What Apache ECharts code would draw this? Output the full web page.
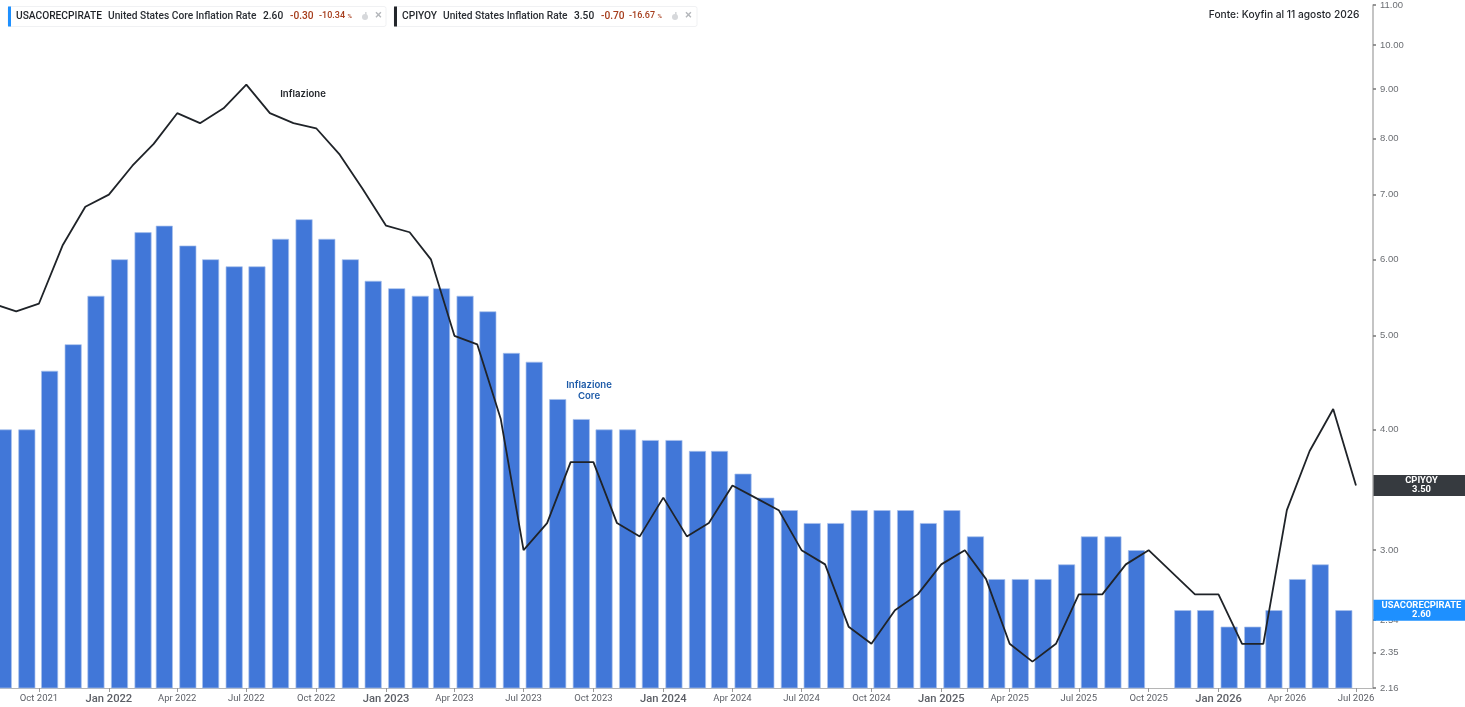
<!DOCTYPE html>
<html><head><meta charset="utf-8">
<style>html,body{margin:0;padding:0;background:#fff}#c{width:1465px;height:707px}</style>
<script src="https://cdn.jsdelivr.net/npm/echarts@6/dist/echarts.min.js"></script>
</head><body><div id="c"></div>
<script>
const coreStart = [2021, 8];
const coreValues = [4.0,4.0,4.6,4.9,5.5,6.0,6.4,6.5,6.2,6.0,5.9,5.9,6.3,6.6,6.3,6.0,5.7,5.6,5.5,5.6,5.5,5.3,4.8,4.7,4.3,4.1,4.0,4.0,3.9,3.9,3.8,3.8,3.6,3.4,3.3,3.2,3.2,3.3,3.3,3.3,3.2,3.3,3.1,2.8,2.8,2.8,2.9,3.1,3.1,3.0,null,2.6,2.6,2.5,2.5,2.6,2.8,2.9,2.6];
const cpiStart = [2021, 7];
const cpiValues = [5.4,5.3,5.4,6.2,6.8,7.0,7.5,7.9,8.5,8.3,8.6,9.1,8.5,8.3,8.2,7.7,7.1,6.5,6.4,6.0,5.0,4.9,4.1,3.0,3.2,3.7,3.7,3.2,3.1,3.4,3.1,3.2,3.5,3.4,3.3,3.0,2.9,2.5,2.4,2.6,2.7,2.9,3.0,2.8,2.4,2.3,2.4,2.7,2.7,2.9,3.0,null,2.7,2.7,2.4,2.4,3.3,3.8,4.2,3.5];
const yTicks = [2.16,2.35,2.54,3,4,5,6,7,8,9,10,11];
const xTickMonths = ['2021-10','2022-01','2022-04','2022-07','2022-10','2023-01','2023-04','2023-07','2023-10','2024-01','2024-04','2024-07','2024-10','2025-01','2025-04','2025-07','2025-10','2026-01','2026-04','2026-07'];
const monthNames = ['Jan','Feb','Mar','Apr','May','Jun','Jul','Aug','Sep','Oct','Nov','Dec'];

const xTicks = xTickMonths.map(s => { const [y,m] = s.split('-').map(Number); return new Date(y,m-1,1).getTime(); });
const coreData = coreValues.map((v,i) => [new Date(coreStart[0], coreStart[1]-1+i, 15).getTime(), v]);
const cpiData = cpiValues.map((v,i) => [new Date(cpiStart[0], cpiStart[1]+i, 1).getTime(), v]);

const chart = echarts.init(document.getElementById('c'), null, {renderer:'canvas'});
const FONT = 'Roboto';
function legendEls(x, right, color, items, iconX, closeX){
  const mk = (left, text, fill, size) => ({type:'text', x:left, y:16, z:50, style:{text, fill, font:'500 '+(size||10.2)+'px '+FONT, verticalAlign:'middle'}});
  const els = [
    {type:'rect', z:49, shape:{x:x, y:6.5, width:right-x, height:20, r:2}, style:{fill:'#fff', stroke:'#f0f1f3', lineWidth:1}},
    {type:'rect', z:50, shape:{x:x, y:6.5, width:3, height:20}, style:{fill:color}}
  ];
  items.forEach(it => els.push(mk(it[0], it[1], it[2], it[3])));
  els.push({type:'circle', z:50, shape:{cx:iconX, cy:17, r:3}, style:{fill:'#d6d8db'}});
  els.push({type:'rect', z:50, shape:{x:iconX, y:12, width:1.6, height:4}, style:{fill:'#d6d8db'}});
  els.push(mk(closeX, '×', '#b4b7bb', 13));
  return els;
}
chart.setOption({
  animation:false,
  backgroundColor:'#fff',
  grid:{left:0, right:92, top:-4, height:692, containLabel:false},
  xAxis:{type:'value', scale:true, min:new Date(2021,7,10,16).getTime(), max:new Date(2026,6,23,10).getTime(),
    splitLine:{show:false},
    axisLine:{onZero:false, lineStyle:{color:'#b5b5b5', width:1.2}},
    axisTick:{show:true, length:4, customValues:xTicks, lineStyle:{color:'#9a9a9a'}},
    axisLabel:{customValues:xTicks, margin:6, hideOverlap:false, showMinLabel:true, showMaxLabel:true,
      formatter:v=>{const d=new Date(v);const s=monthNames[d.getMonth()]+' '+d.getFullYear();return d.getMonth()===0?'{b|'+s+'}':'{n|'+s+'}';},
      rich:{b:{fontFamily:FONT,fontSize:11.2,fontWeight:500,color:'#5c5f66'},n:{fontFamily:FONT,fontSize:9.5,color:'#5c5f66'}}}},
  yAxis:{type:'log', logBase:10, min:2.16, max:11, position:'right',
    splitLine:{show:false}, minorTick:{show:false}, minorSplitLine:{show:false},
    axisLine:{show:true, lineStyle:{color:'#b0b0b0', width:1.5}},
    axisTick:{show:true, length:3, customValues:yTicks, lineStyle:{color:'#777', width:1.5}},
    axisLabel:{customValues:yTicks, margin:7, fontFamily:'Liberation Sans', fontSize:9.5, color:'#6b6e73', hideOverlap:false,
      showMinLabel:true, showMaxLabel:true, formatter:v=>Number(v).toFixed(2)}},
  series:[
    {name:'USACORECPIRATE', type:'bar', data:coreData, barWidth:17, clip:true, z:2,
      itemStyle:{color:'#4177d8', borderColor:'#a9c1ec', borderWidth:0.7}},
    {name:'CPIYOY', type:'line', data:cpiData, connectNulls:true, showSymbol:false, symbol:'none', clip:true, z:3,
      lineStyle:{color:'#1f2328', width:1.8}}
  ]
});

function tag(y, fill, l1, l2){
  const x0 = 1373.5;
  return [
    {type:'rect', z:60, shape:{x:x0, y:y-10.5, width:91.5, height:21}, style:{fill}},
    {type:'text', z:61, x:x0+48, y:y-5, style:{text:l1, fill:'#fff', align:'center', verticalAlign:'middle', font:'700 9.4px '+FONT}},
    {type:'text', z:61, x:x0+48, y:y+4, style:{text:l2, fill:'#fff', align:'center', verticalAlign:'middle', font:'700 9.4px '+FONT}}
  ];
}
const lastCpi = cpiData[cpiData.length-1], lastCore = coreData[coreData.length-1];
const yCpi = chart.convertToPixel({yAxisIndex:0}, lastCpi[1]);
const yCore = chart.convertToPixel({yAxisIndex:0}, lastCore[1]);
const txt = (x,y,text,fill,font) => ({type:'text', z:40, x, y, style:{text, fill, font, align:'center', verticalAlign:'middle'}});
const RED = '#a63d1c', INK = '#1f2328';
chart.setOption({graphic:[].concat(
  legendEls(8, 386, '#1e90ff', [
    [16,'USACORECPIRATE',INK],[108,'United States Core Inflation Rate','#2a2e34'],[263,lastCore[1].toFixed(2),INK],
    [290,'-0.30',RED],[319,'-10.34',RED,9],[347.5,'%',RED,6]], 365, 375),
  legendEls(394, 697, '#23262b', [
    [402,'CPIYOY',INK],[443,'United States Inflation Rate','#2a2e34'],[574,lastCpi[1].toFixed(2),INK],
    [601,'-0.70',RED],[629,'-16.67',RED,9],[657.5,'%',RED,6]], 675, 685),
  tag(yCpi, '#363a3f', 'CPIYOY', lastCpi[1].toFixed(2)),
  tag(yCore, '#1e90ff', 'USACORECPIRATE', lastCore[1].toFixed(2)),
  [
    txt(303, 94.5, 'Inflazione', '#23262b', '600 9.6px Inter'),
    txt(589, 385.5, 'Inflazione', '#1c5aa8', '600 9.6px Inter'),
    txt(589, 396, 'Core', '#1c5aa8', '600 9.6px Inter'),
    {type:'text', z:40, x:1359.5, y:14.5, style:{text:'Fonte: Koyfin al 11 agosto 2026', fill:'#23262b', font:'500 10.2px Inter', align:'right', verticalAlign:'middle'}}
  ]
)});
</script></body></html>
